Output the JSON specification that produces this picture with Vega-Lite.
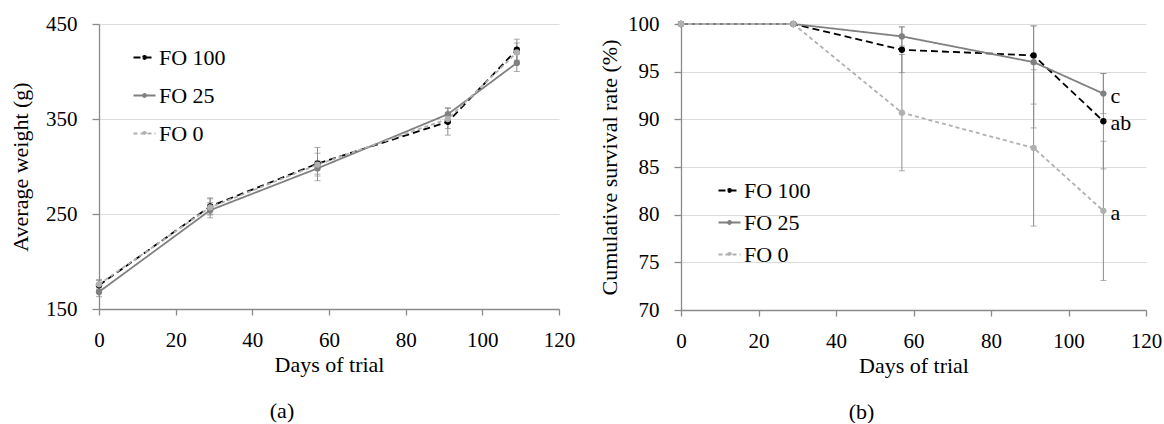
{
  "$schema": "https://vega.github.io/schema/vega-lite/v6.json",
  "padding": {"left": 9, "top": 13, "right": 5, "bottom": 0},
  "background": "white",
  "datasets": {
    "weight": [
      {"day": 0, "series": "FO 100", "value": 175, "lo": 170, "hi": 180},
      {"day": 29, "series": "FO 100", "value": 258, "lo": 250, "hi": 266},
      {"day": 57, "series": "FO 100", "value": 303, "lo": 292, "hi": 314},
      {"day": 91, "series": "FO 100", "value": 347, "lo": 340, "hi": 355},
      {"day": 109, "series": "FO 100", "value": 423, "lo": 412, "hi": 434},
      {"day": 0, "series": "FO 25", "value": 168, "lo": 163, "hi": 173},
      {"day": 29, "series": "FO 25", "value": 254, "lo": 246, "hi": 262},
      {"day": 57, "series": "FO 25", "value": 298, "lo": 290, "hi": 306},
      {"day": 91, "series": "FO 25", "value": 355, "lo": 348, "hi": 362},
      {"day": 109, "series": "FO 25", "value": 409, "lo": 400, "hi": 418},
      {"day": 0, "series": "FO 0", "value": 176, "lo": 171, "hi": 181},
      {"day": 29, "series": "FO 0", "value": 257, "lo": 249, "hi": 267},
      {"day": 57, "series": "FO 0", "value": 302, "lo": 285, "hi": 320},
      {"day": 91, "series": "FO 0", "value": 350, "lo": 333, "hi": 361},
      {"day": 109, "series": "FO 0", "value": 420, "lo": 410, "hi": 430}
    ],
    "survival": [
      {"day": 0, "series": "FO 100", "value": 100},
      {"day": 29, "series": "FO 100", "value": 100},
      {"day": 57, "series": "FO 100", "value": 97.3, "lo": 94.9, "hi": 99.7},
      {"day": 91, "series": "FO 100", "value": 96.7, "lo": 91.6, "hi": 99.8},
      {"day": 109, "series": "FO 100", "value": 89.8, "lo": 84.8, "hi": 94.8},
      {"day": 0, "series": "FO 25", "value": 100},
      {"day": 29, "series": "FO 25", "value": 100},
      {"day": 57, "series": "FO 25", "value": 98.7, "lo": 97.7, "hi": 99.7},
      {"day": 91, "series": "FO 25", "value": 96.0, "lo": 89.1, "hi": 99.8},
      {"day": 109, "series": "FO 25", "value": 92.7, "lo": 90.6, "hi": 94.8},
      {"day": 0, "series": "FO 0", "value": 100},
      {"day": 29, "series": "FO 0", "value": 100},
      {"day": 57, "series": "FO 0", "value": 90.7, "lo": 84.6, "hi": 96.8},
      {"day": 91, "series": "FO 0", "value": 87.0, "lo": 78.8, "hi": 95.2},
      {"day": 109, "series": "FO 0", "value": 80.4, "lo": 73.1, "hi": 87.7}
    ],
    "letters": [
      {"day": 109, "value": 92.7, "label": "c"},
      {"day": 109, "value": 89.8, "label": "ab"},
      {"day": 109, "value": 80.4, "label": "a"}
    ]
  },
  "hconcat": [
    {
      "width": 460,
      "height": 285,
      "title": {"text": "(a)", "orient": "bottom", "anchor": "middle", "dx": -47, "offset": 26},
      "data": {"name": "weight"},
      "layer": [
        {
          "transform": [{"filter": "isValid(datum.lo)"}],
          "mark": {"type": "errorbar", "color": "#8c8c8c", "thickness": 1, "ticks": {"size": 6, "color": "#8c8c8c"}},
          "encoding": {
            "x": {"field": "day", "type": "quantitative", "title": "Days of trial"},
            "y": {"field": "lo", "type": "quantitative", "title": "Average weight (g)"},
            "y2": {"field": "hi"}
          }
        },
        {
          "mark": {"type": "line", "strokeWidth": 1.8},
          "encoding": {
            "x": {"field": "day", "type": "quantitative", "scale": {"domain": [0, 120], "nice": false}, "axis": {"values": [0, 20, 40, 60, 80, 100, 120], "title": "Days of trial", "grid": false}},
            "y": {"field": "value", "type": "quantitative", "scale": {"domain": [150, 450], "nice": false, "zero": false}, "axis": {"values": [150, 250, 350, 450], "title": "Average weight (g)", "titlePadding": 13}},
            "color": {"field": "series", "type": "nominal", "scale": {"domain": ["FO 100", "FO 25", "FO 0"], "range": ["#000000", "#808080", "#b0b0b0"]}, "legend": {"title": null, "orient": "none", "legendX": 33, "legendY": 21, "rowPadding": 14}},
            "strokeDash": {"field": "series", "type": "nominal", "scale": {"domain": ["FO 100", "FO 25", "FO 0"], "range": [[7, 4], [1, 0], [4, 3]]}, "legend": {"title": null, "orient": "none", "legendX": 33, "legendY": 21, "rowPadding": 14}}
          }
        },
        {
          "mark": {"type": "point", "filled": true, "size": 40, "opacity": 1},
          "encoding": {
            "x": {"field": "day", "type": "quantitative"},
            "y": {"field": "value", "type": "quantitative"},
            "color": {"field": "series", "type": "nominal", "legend": {"title": null, "orient": "none", "legendX": 33, "legendY": 21, "rowPadding": 14}}
          }
        }
      ]
    },
    {
      "width": 465,
      "height": 286,
      "title": {"text": "(b)", "orient": "bottom", "anchor": "middle", "dx": -52, "offset": 26},
      "layer": [
        {
          "data": {"name": "survival"},
          "transform": [{"filter": "isValid(datum.lo)"}],
          "mark": {"type": "errorbar", "color": "#8c8c8c", "thickness": 1, "ticks": {"size": 6, "color": "#8c8c8c"}},
          "encoding": {
            "x": {"field": "day", "type": "quantitative", "title": "Days of trial"},
            "y": {"field": "lo", "type": "quantitative", "title": "Cumulative survival rate (%)"},
            "y2": {"field": "hi"}
          }
        },
        {
          "data": {"name": "survival"},
          "mark": {"type": "line", "strokeWidth": 1.8},
          "encoding": {
            "x": {"field": "day", "type": "quantitative", "scale": {"domain": [0, 120], "nice": false}, "axis": {"values": [0, 20, 40, 60, 80, 100, 120], "title": "Days of trial", "grid": false}},
            "y": {"field": "value", "type": "quantitative", "scale": {"domain": [70, 100], "nice": false, "zero": false}, "axis": {"values": [70, 75, 80, 85, 90, 95, 100], "title": "Cumulative survival rate (%)"}},
            "color": {"field": "series", "type": "nominal", "scale": {"domain": ["FO 100", "FO 25", "FO 0"], "range": ["#000000", "#808080", "#b0b0b0"]}, "legend": {"title": null, "orient": "none", "legendX": 36, "legendY": 154, "rowPadding": 8}},
            "strokeDash": {"field": "series", "type": "nominal", "scale": {"domain": ["FO 100", "FO 25", "FO 0"], "range": [[7, 4], [1, 0], [4, 3]]}, "legend": {"title": null, "orient": "none", "legendX": 36, "legendY": 154, "rowPadding": 8}}
          }
        },
        {
          "data": {"name": "survival"},
          "mark": {"type": "point", "filled": true, "size": 40, "opacity": 1},
          "encoding": {
            "x": {"field": "day", "type": "quantitative"},
            "y": {"field": "value", "type": "quantitative"},
            "color": {"field": "series", "type": "nominal", "legend": {"title": null, "orient": "none", "legendX": 36, "legendY": 154, "rowPadding": 8}}
          }
        },
        {
          "data": {"name": "letters"},
          "mark": {"type": "text", "align": "left", "baseline": "middle", "dx": 7, "dy": 2, "fontSize": 22, "color": "#000000"},
          "encoding": {
            "x": {"field": "day", "type": "quantitative"},
            "y": {"field": "value", "type": "quantitative"},
            "text": {"field": "label"}
          }
        }
      ]
    }
  ],
  "spacing": 23,
  "resolve": {"legend": {"color": "independent", "strokeDash": "independent"}, "scale": {"x": "independent", "y": "independent"}},
  "config": {
    "font": "Liberation Serif",
    "view": {"stroke": null},
    "axis": {
      "labelFont": "Liberation Serif",
      "titleFont": "Liberation Serif",
      "labelFontSize": 21,
      "titleFontSize": 22,
      "titleFontWeight": "normal",
      "labelColor": "#000000",
      "titleColor": "#000000",
      "domainColor": "#8a8a8a",
      "tickColor": "#8a8a8a",
      "gridColor": "#dcdcdc",
      "domainWidth": 1.3,
      "tickWidth": 1.3
    },
    "axisX": {"tickSize": 6, "labelPadding": 14, "titlePadding": 4, "labelFlush": false},
    "axisY": {"tickSize": 7, "labelPadding": 15, "titlePadding": 6, "grid": true},
    "legend": {
      "labelFont": "Liberation Serif",
      "labelFontSize": 22,
      "labelColor": "#000000",
      "symbolType": "M-0.12,0A0.12,0.12,0,1,1,0.12,0A0.12,0.12,0,1,1,-0.12,0ZM-1,0H1",
      "symbolSize": 484,
      "symbolStrokeWidth": 2.2,
      "labelOffset": 2,
      "padding": 0
    },
    "title": {"font": "Liberation Serif", "fontSize": 22, "fontWeight": "normal", "color": "#000000"}
  }
}
